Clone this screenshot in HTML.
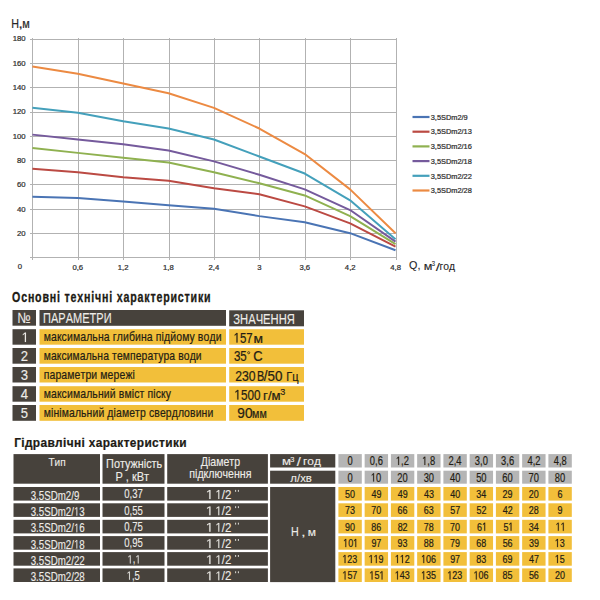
<!DOCTYPE html>
<html><head><meta charset="utf-8"><style>
html,body{margin:0;padding:0;background:#fff;width:600px;height:600px;overflow:hidden}
svg{display:block;font-family:"Liberation Sans",sans-serif;font-kerning:none}
</style></head><body>
<svg width="600" height="600" viewBox="0 0 600 600">
<g stroke="#b2b2b2" stroke-width="1" shape-rendering="crispEdges"><line x1="30" y1="233.5" x2="396" y2="233.5"/><line x1="30" y1="209.5" x2="396" y2="209.5"/><line x1="30" y1="184.5" x2="396" y2="184.5"/><line x1="30" y1="160.5" x2="396" y2="160.5"/><line x1="30" y1="136.5" x2="396" y2="136.5"/><line x1="30" y1="112.5" x2="396" y2="112.5"/><line x1="30" y1="87.5" x2="396" y2="87.5"/><line x1="30" y1="63.5" x2="396" y2="63.5"/><line x1="30" y1="39.5" x2="396" y2="39.5"/><line x1="30" y1="257.5" x2="396" y2="257.5"/><line x1="32.5" y1="38" x2="32.5" y2="260"/><line x1="78.5" y1="38" x2="78.5" y2="260"/><line x1="123.5" y1="38" x2="123.5" y2="260"/><line x1="169.5" y1="38" x2="169.5" y2="260"/><line x1="214.5" y1="38" x2="214.5" y2="260"/><line x1="259.5" y1="38" x2="259.5" y2="260"/><line x1="305.5" y1="38" x2="305.5" y2="260"/><line x1="350.5" y1="38" x2="350.5" y2="260"/><line x1="396.5" y1="38" x2="396.5" y2="260"/></g>
<polyline points="32.40,196.67 77.79,197.88 123.18,201.53 168.56,205.18 213.95,208.83 259.34,216.13 304.73,222.22 350.11,233.17 395.50,250.20" fill="none" stroke="#4a74b4" stroke-width="2.0" stroke-linejoin="round"/>
<polyline points="32.40,168.68 77.79,172.33 123.18,177.20 168.56,180.85 213.95,188.15 259.34,194.23 304.73,206.40 350.11,223.43 395.50,246.55" fill="none" stroke="#bb4a43" stroke-width="2.0" stroke-linejoin="round"/>
<polyline points="32.40,148.00 77.79,152.87 123.18,157.73 168.56,162.60 213.95,172.33 259.34,183.28 304.73,195.45 350.11,216.13 395.50,244.12" fill="none" stroke="#8fb150" stroke-width="2.0" stroke-linejoin="round"/>
<polyline points="32.40,134.62 77.79,139.48 123.18,144.35 168.56,150.43 213.95,161.38 259.34,174.77 304.73,189.37 350.11,210.05 395.50,241.68" fill="none" stroke="#755a9c" stroke-width="2.0" stroke-linejoin="round"/>
<polyline points="32.40,107.85 77.79,112.72 123.18,121.23 168.56,128.53 213.95,139.48 259.34,156.52 304.73,173.55 350.11,200.32 395.50,239.25" fill="none" stroke="#44a0bb" stroke-width="2.0" stroke-linejoin="round"/>
<polyline points="32.40,66.48 77.79,73.78 123.18,83.52 168.56,93.25 213.95,107.85 259.34,128.53 304.73,154.08 350.11,189.37 395.50,233.17" fill="none" stroke="#ec8a42" stroke-width="2.0" stroke-linejoin="round"/>
<text transform="matrix(0.9600,0,0,1,17.05,235.87)" font-size="8.10" stroke="#303030" stroke-width="0.24" stroke-linejoin="round" fill="#303030">20</text>
<text transform="matrix(0.9600,0,0,1,17.05,211.53)" font-size="8.10" stroke="#303030" stroke-width="0.24" stroke-linejoin="round" fill="#303030">40</text>
<text transform="matrix(0.9600,0,0,1,17.05,187.20)" font-size="8.10" stroke="#303030" stroke-width="0.24" stroke-linejoin="round" fill="#303030">60</text>
<text transform="matrix(0.9600,0,0,1,17.05,162.87)" font-size="8.10" stroke="#303030" stroke-width="0.24" stroke-linejoin="round" fill="#303030">80</text>
<text transform="matrix(0.9600,0,0,1,12.73,138.53)" font-size="8.10" stroke="#303030" stroke-width="0.24" stroke-linejoin="round" fill="#303030">100</text>
<text transform="matrix(0.9600,0,0,1,12.73,114.20)" font-size="8.10" stroke="#303030" stroke-width="0.24" stroke-linejoin="round" fill="#303030">120</text>
<text transform="matrix(0.9600,0,0,1,12.73,89.87)" font-size="8.10" stroke="#303030" stroke-width="0.24" stroke-linejoin="round" fill="#303030">140</text>
<text transform="matrix(0.9600,0,0,1,12.73,65.53)" font-size="8.10" stroke="#303030" stroke-width="0.24" stroke-linejoin="round" fill="#303030">160</text>
<text transform="matrix(0.9600,0,0,1,12.73,41.20)" font-size="8.10" stroke="#303030" stroke-width="0.24" stroke-linejoin="round" fill="#303030">180</text>
<text transform="matrix(0.9600,0,0,1,17.70,268.70)" font-size="8.10" stroke="#303030" stroke-width="0.24" stroke-linejoin="round" fill="#303030">0</text>
<text transform="matrix(1.0000,0,0,1,72.45,270.20)" font-size="7.70" stroke="#303030" stroke-width="0.24" stroke-linejoin="round" fill="#303030">0,6</text>
<text transform="matrix(1.0000,0,0,1,117.72,270.20)" font-size="7.70" stroke="#303030" stroke-width="0.24" stroke-linejoin="round" fill="#303030">1,2</text>
<text transform="matrix(1.0000,0,0,1,163.08,270.20)" font-size="7.70" stroke="#303030" stroke-width="0.24" stroke-linejoin="round" fill="#303030">1,8</text>
<text transform="matrix(1.0000,0,0,1,208.52,270.20)" font-size="7.70" stroke="#303030" stroke-width="0.24" stroke-linejoin="round" fill="#303030">2,4</text>
<text transform="matrix(1.0000,0,0,1,257.22,270.20)" font-size="7.70" stroke="#303030" stroke-width="0.24" stroke-linejoin="round" fill="#303030">3</text>
<text transform="matrix(1.0000,0,0,1,299.40,270.20)" font-size="7.70" stroke="#303030" stroke-width="0.24" stroke-linejoin="round" fill="#303030">3,6</text>
<text transform="matrix(1.0000,0,0,1,344.87,270.20)" font-size="7.70" stroke="#303030" stroke-width="0.24" stroke-linejoin="round" fill="#303030">4,2</text>
<text transform="matrix(1.0000,0,0,1,390.23,270.20)" font-size="7.70" stroke="#303030" stroke-width="0.24" stroke-linejoin="round" fill="#303030">4,8</text>
<line x1="412.5" y1="117.00" x2="429.5" y2="117.00" stroke="#4a74b4" stroke-width="2.2"/>
<text transform="matrix(0.9871,0,0,1,430.72,119.75)" font-size="7.50" stroke="#303030" stroke-width="0.24" stroke-linejoin="round" fill="#303030">3,5SDm2/9</text>
<line x1="412.5" y1="131.70" x2="429.5" y2="131.70" stroke="#bb4a43" stroke-width="2.2"/>
<text transform="matrix(0.9871,0,0,1,430.72,134.45)" font-size="7.50" stroke="#303030" stroke-width="0.24" stroke-linejoin="round" fill="#303030">3,5SDm2/13</text>
<line x1="412.5" y1="146.40" x2="429.5" y2="146.40" stroke="#8fb150" stroke-width="2.2"/>
<text transform="matrix(0.9871,0,0,1,430.72,149.15)" font-size="7.50" stroke="#303030" stroke-width="0.24" stroke-linejoin="round" fill="#303030">3,5SDm2/16</text>
<line x1="412.5" y1="161.10" x2="429.5" y2="161.10" stroke="#755a9c" stroke-width="2.2"/>
<text transform="matrix(0.9871,0,0,1,430.72,163.85)" font-size="7.50" stroke="#303030" stroke-width="0.24" stroke-linejoin="round" fill="#303030">3,5SDm2/18</text>
<line x1="412.5" y1="175.80" x2="429.5" y2="175.80" stroke="#44a0bb" stroke-width="2.2"/>
<text transform="matrix(0.9871,0,0,1,430.72,178.55)" font-size="7.50" stroke="#303030" stroke-width="0.24" stroke-linejoin="round" fill="#303030">3,5SDm2/22</text>
<line x1="412.5" y1="190.50" x2="429.5" y2="190.50" stroke="#ec8a42" stroke-width="2.2"/>
<text transform="matrix(0.9871,0,0,1,430.72,193.25)" font-size="7.50" stroke="#303030" stroke-width="0.24" stroke-linejoin="round" fill="#303030">3,5SDm2/28</text>
<text transform="matrix(0.8458,0,0,1,11.37,27.75)" font-size="12.70" stroke="#262626" stroke-width="0.20" stroke-linejoin="round" fill="#262626">H</text>
<text transform="matrix(1.2034,0,0,1,18.38,27.75)" font-size="12.70" stroke="#262626" stroke-width="0.20" stroke-linejoin="round" fill="#262626">,</text>
<text transform="matrix(0.9179,0,0,1,22.24,27.75)" font-size="11.90" stroke="#262626" stroke-width="0.20" stroke-linejoin="round" fill="#262626">м</text>
<text transform="matrix(0.9624,0,0,1,409.09,268.80)" font-size="11.20" stroke="#262626" stroke-width="0.10" stroke-linejoin="round" fill="#262626">Q,</text>
<text transform="matrix(1.2195,0,0,1,423.83,269.70)" font-size="10.30" stroke="#262626" stroke-width="0.10" stroke-linejoin="round" fill="#262626">м</text>
<text transform="matrix(0.9228,0,0,1,431.78,265.50)" font-size="6.40" stroke="#262626" stroke-width="0.10" stroke-linejoin="round" fill="#262626">3</text>
<text transform="matrix(1.3145,0,0,1,435.70,271.00)" font-size="11.50" stroke="#262626" stroke-width="0.10" stroke-linejoin="round" fill="#262626">/</text>
<text transform="matrix(1.0065,0,0,1,439.58,269.70)" font-size="10.30" stroke="#262626" stroke-width="0.10" stroke-linejoin="round" fill="#262626">год</text>
<text transform="matrix(0.7391,0,0,1,12.06,301.80)" font-size="14.40" font-weight="bold" letter-spacing="1.10" stroke="#201a14" stroke-width="0.30" stroke-linejoin="round" fill="#201a14">Основні технічні характеристики</text>
<rect x="12.50" y="310.00" width="23.50" height="15.70" fill="#47423c"/>
<rect x="39.50" y="310.00" width="186.50" height="15.80" fill="#47423c"/>
<rect x="229.20" y="310.30" width="74.80" height="16.00" fill="#47423c"/>
<text transform="matrix(0.8365,0,0,1,17.56,323.00)" font-size="14.90" stroke="#eeece8" stroke-width="0.12" stroke-linejoin="round" fill="#eeece8">№</text>
<text transform="matrix(0.7837,0,0,1,43.11,323.40)" font-size="14.06" stroke="#eeece8" stroke-width="0.12" stroke-linejoin="round" fill="#eeece8">ПАРАМЕТРИ</text>
<text transform="matrix(0.7973,0,0,1,233.33,323.70)" font-size="14.06" stroke="#eeece8" stroke-width="0.12" stroke-linejoin="round" fill="#eeece8">ЗНАЧЕННЯ</text>
<rect x="12.50" y="329.20" width="23.50" height="15.50" fill="#47423c"/>
<rect x="39.50" y="329.20" width="186.50" height="15.50" fill="#f2bf3a"/>
<rect x="229.20" y="329.20" width="74.80" height="15.50" fill="#f2bf3a"/>
<g transform="matrix(0.9500,0,0,1,21.54,342.10)" fill="#eeece8"><text font-size="13.80" stroke="#eeece8" stroke-width="0.12" stroke-linejoin="round"> </text><path transform="matrix(0.00674,0,0,-0.00674,0.000,0)" d="M515 0V1237L197 1010V1180L530 1409H696V0Z" stroke="#eeece8" stroke-width="17.8" stroke-linejoin="round"/></g>
<text transform="matrix(0.8300,0,0,1,43.67,341.00)" font-size="12.60" letter-spacing="0.15" stroke="#241d14" stroke-width="0.22" stroke-linejoin="round" fill="#241d14">максимальна глибина підйому води</text>
<rect x="12.50" y="348.00" width="23.50" height="15.70" fill="#47423c"/>
<rect x="39.50" y="348.00" width="186.50" height="15.70" fill="#f2bf3a"/>
<rect x="229.20" y="348.00" width="74.80" height="15.70" fill="#f2bf3a"/>
<text transform="matrix(0.9500,0,0,1,20.75,360.90)" font-size="13.80" stroke="#eeece8" stroke-width="0.12" stroke-linejoin="round" fill="#eeece8">2</text>
<text transform="matrix(0.8206,0,0,1,43.68,359.80)" font-size="12.60" letter-spacing="0.15" stroke="#241d14" stroke-width="0.22" stroke-linejoin="round" fill="#241d14">максимальна температура води</text>
<rect x="12.50" y="367.00" width="23.50" height="15.50" fill="#47423c"/>
<rect x="39.50" y="367.00" width="186.50" height="15.50" fill="#f2bf3a"/>
<rect x="229.20" y="367.00" width="74.80" height="15.50" fill="#f2bf3a"/>
<text transform="matrix(0.9500,0,0,1,20.79,379.90)" font-size="13.80" stroke="#eeece8" stroke-width="0.12" stroke-linejoin="round" fill="#eeece8">3</text>
<text transform="matrix(0.8294,0,0,1,43.68,378.80)" font-size="12.60" letter-spacing="0.15" stroke="#241d14" stroke-width="0.22" stroke-linejoin="round" fill="#241d14">параметри мережі</text>
<rect x="12.50" y="386.20" width="23.50" height="15.50" fill="#47423c"/>
<rect x="39.50" y="386.20" width="186.50" height="15.50" fill="#f2bf3a"/>
<rect x="229.20" y="386.20" width="74.80" height="15.50" fill="#f2bf3a"/>
<text transform="matrix(0.9500,0,0,1,20.80,399.10)" font-size="13.80" stroke="#eeece8" stroke-width="0.12" stroke-linejoin="round" fill="#eeece8">4</text>
<text transform="matrix(0.8293,0,0,1,43.68,398.00)" font-size="12.60" letter-spacing="0.15" stroke="#241d14" stroke-width="0.22" stroke-linejoin="round" fill="#241d14">максимальний вміст піску</text>
<rect x="12.50" y="405.00" width="23.50" height="15.80" fill="#47423c"/>
<rect x="39.50" y="405.00" width="186.50" height="15.80" fill="#f2bf3a"/>
<rect x="229.20" y="405.00" width="74.80" height="15.80" fill="#f2bf3a"/>
<text transform="matrix(0.9500,0,0,1,20.77,417.90)" font-size="13.80" stroke="#eeece8" stroke-width="0.12" stroke-linejoin="round" fill="#eeece8">5</text>
<text transform="matrix(0.8264,0,0,1,43.68,416.80)" font-size="12.60" letter-spacing="0.15" stroke="#241d14" stroke-width="0.22" stroke-linejoin="round" fill="#241d14">мінімальний діаметр свердловини</text>
<g transform="matrix(0.8332,0,0,1,233.59,342.60)" fill="#241d14"><text font-size="13.80" stroke="#241d14" stroke-width="0.22" stroke-linejoin="round"> 57</text><path transform="matrix(0.00674,0,0,-0.00674,0.000,0)" d="M515 0V1237L197 1010V1180L530 1409H696V0Z" stroke="#241d14" stroke-width="32.6" stroke-linejoin="round"/></g>
<text transform="matrix(1.1340,0,0,1,253.54,342.60)" font-size="12.20" stroke="#241d14" stroke-width="0.22" stroke-linejoin="round" fill="#241d14">м</text>
<text transform="matrix(0.8354,0,0,1,233.96,361.25)" font-size="13.80" stroke="#241d14" stroke-width="0.22" stroke-linejoin="round" fill="#241d14">35</text>
<circle cx="248.7" cy="352.7" r="1.05" fill="none" stroke="#241d14" stroke-width="0.75"/>
<text transform="matrix(0.9383,0,0,1,253.24,361.25)" font-size="13.80" stroke="#241d14" stroke-width="0.22" stroke-linejoin="round" fill="#241d14">C</text>
<text transform="matrix(0.8857,0,0,1,235.19,380.50)" font-size="13.80" stroke="#241d14" stroke-width="0.22" stroke-linejoin="round" fill="#241d14">230</text>
<text transform="matrix(0.7897,0,0,1,257.11,380.50)" font-size="13.80" stroke="#241d14" stroke-width="0.22" stroke-linejoin="round" fill="#241d14">В</text>
<text transform="matrix(0.9708,0,0,1,263.80,380.50)" font-size="13.80" stroke="#241d14" stroke-width="0.22" stroke-linejoin="round" fill="#241d14">/50</text>
<text transform="matrix(0.8729,0,0,1,286.30,380.50)" font-size="12.60" stroke="#241d14" stroke-width="0.22" stroke-linejoin="round" fill="#241d14">Гц</text>
<g transform="matrix(0.8497,0,0,1,234.37,399.50)" fill="#241d14"><text font-size="13.80" stroke="#241d14" stroke-width="0.22" stroke-linejoin="round"> 500</text><path transform="matrix(0.00674,0,0,-0.00674,0.000,0)" d="M515 0V1237L197 1010V1180L530 1409H696V0Z" stroke="#241d14" stroke-width="32.6" stroke-linejoin="round"/></g>
<text transform="matrix(1.0291,0,0,1,263.09,399.60)" font-size="12.80" stroke="#241d14" stroke-width="0.22" stroke-linejoin="round" fill="#241d14">г/м</text>
<text transform="matrix(0.9255,0,0,1,280.35,395.10)" font-size="9.80" stroke="#241d14" stroke-width="0.18" stroke-linejoin="round" fill="#241d14">3</text>
<text transform="matrix(0.9884,0,0,1,237.36,418.00)" font-size="13.80" stroke="#241d14" stroke-width="0.22" stroke-linejoin="round" fill="#241d14">90</text>
<text transform="matrix(0.8470,0,0,1,252.06,418.00)" font-size="12.60" stroke="#241d14" stroke-width="0.22" stroke-linejoin="round" fill="#241d14">мм</text>
<text transform="matrix(0.8819,0,0,1,14.20,446.50)" font-size="13.50" font-weight="bold" letter-spacing="0.40" stroke="#201a14" stroke-width="0.25" stroke-linejoin="round" fill="#201a14">Гідравлічні характеристики</text>
<rect x="13.50" y="454.10" width="86.50" height="29.60" fill="#47423c"/>
<rect x="102.50" y="454.10" width="62.00" height="29.60" fill="#47423c"/>
<rect x="167.20" y="454.10" width="100.70" height="29.60" fill="#47423c"/>
<rect x="270.10" y="454.10" width="65.20" height="13.40" fill="#47423c"/>
<rect x="270.10" y="470.70" width="65.20" height="13.00" fill="#47423c"/>
<rect x="338.40" y="454.10" width="23.40" height="13.40" fill="#b5b5b5"/>
<rect x="338.40" y="470.70" width="23.40" height="13.00" fill="#b5b5b5"/>
<text transform="matrix(0.7800,0,0,1,347.50,464.90)" font-size="12.00" stroke="#241d14" stroke-width="0.20" stroke-linejoin="round" fill="#241d14">0</text>
<text transform="matrix(0.7800,0,0,1,347.50,481.60)" font-size="12.00" stroke="#241d14" stroke-width="0.20" stroke-linejoin="round" fill="#241d14">0</text>
<rect x="338.40" y="487.00" width="23.40" height="13.60" fill="#f2bf3a"/>
<text transform="matrix(0.7600,0,0,1,345.11,498.00)" font-size="11.80" stroke="#241d14" stroke-width="0.22" stroke-linejoin="round" fill="#241d14">50</text>
<rect x="338.40" y="503.30" width="23.40" height="13.60" fill="#f2bf3a"/>
<text transform="matrix(0.7600,0,0,1,345.08,514.30)" font-size="11.80" stroke="#241d14" stroke-width="0.22" stroke-linejoin="round" fill="#241d14">73</text>
<rect x="338.40" y="519.80" width="23.40" height="13.60" fill="#f2bf3a"/>
<text transform="matrix(0.7600,0,0,1,345.08,530.80)" font-size="11.80" stroke="#241d14" stroke-width="0.22" stroke-linejoin="round" fill="#241d14">90</text>
<rect x="338.40" y="536.10" width="23.40" height="13.60" fill="#f2bf3a"/>
<g transform="matrix(0.7600,0,0,1,343.16,547.10)" fill="#241d14"><text font-size="11.80" stroke="#241d14" stroke-width="0.22" stroke-linejoin="round"> 0 </text><path transform="matrix(0.00576,0,0,-0.00576,0.000,0)" d="M515 0V1237L197 1010V1180L530 1409H696V0Z" stroke="#241d14" stroke-width="38.2" stroke-linejoin="round"/><path transform="matrix(0.00576,0,0,-0.00576,13.125,0)" d="M515 0V1237L197 1010V1180L530 1409H696V0Z" stroke="#241d14" stroke-width="38.2" stroke-linejoin="round"/></g>
<rect x="338.40" y="552.10" width="23.40" height="13.60" fill="#f2bf3a"/>
<g transform="matrix(0.7600,0,0,1,342.38,563.10)" fill="#241d14"><text font-size="11.80" stroke="#241d14" stroke-width="0.22" stroke-linejoin="round"> 23</text><path transform="matrix(0.00576,0,0,-0.00576,0.000,0)" d="M515 0V1237L197 1010V1180L530 1409H696V0Z" stroke="#241d14" stroke-width="38.2" stroke-linejoin="round"/></g>
<rect x="338.40" y="568.40" width="23.40" height="13.60" fill="#f2bf3a"/>
<g transform="matrix(0.7600,0,0,1,342.41,579.40)" fill="#241d14"><text font-size="11.80" stroke="#241d14" stroke-width="0.22" stroke-linejoin="round"> 57</text><path transform="matrix(0.00576,0,0,-0.00576,0.000,0)" d="M515 0V1237L197 1010V1180L530 1409H696V0Z" stroke="#241d14" stroke-width="38.2" stroke-linejoin="round"/></g>
<rect x="364.65" y="454.10" width="23.40" height="13.40" fill="#b5b5b5"/>
<rect x="364.65" y="470.70" width="23.40" height="13.00" fill="#b5b5b5"/>
<text transform="matrix(0.7800,0,0,1,369.87,464.90)" font-size="12.00" stroke="#241d14" stroke-width="0.20" stroke-linejoin="round" fill="#241d14">0,6</text>
<g transform="matrix(0.7800,0,0,1,370.88,481.60)" fill="#241d14"><text font-size="12.00" stroke="#241d14" stroke-width="0.20" stroke-linejoin="round"> 0</text><path transform="matrix(0.00586,0,0,-0.00586,0.000,0)" d="M515 0V1237L197 1010V1180L530 1409H696V0Z" stroke="#241d14" stroke-width="34.1" stroke-linejoin="round"/></g>
<rect x="364.65" y="487.00" width="23.40" height="13.60" fill="#f2bf3a"/>
<text transform="matrix(0.7600,0,0,1,371.47,498.00)" font-size="11.80" stroke="#241d14" stroke-width="0.22" stroke-linejoin="round" fill="#241d14">49</text>
<rect x="364.65" y="503.30" width="23.40" height="13.60" fill="#f2bf3a"/>
<text transform="matrix(0.7600,0,0,1,371.31,514.30)" font-size="11.80" stroke="#241d14" stroke-width="0.22" stroke-linejoin="round" fill="#241d14">70</text>
<rect x="364.65" y="519.80" width="23.40" height="13.60" fill="#f2bf3a"/>
<text transform="matrix(0.7600,0,0,1,371.36,530.80)" font-size="11.80" stroke="#241d14" stroke-width="0.22" stroke-linejoin="round" fill="#241d14">86</text>
<rect x="364.65" y="536.10" width="23.40" height="13.60" fill="#f2bf3a"/>
<text transform="matrix(0.7600,0,0,1,371.38,547.10)" font-size="11.80" stroke="#241d14" stroke-width="0.22" stroke-linejoin="round" fill="#241d14">97</text>
<rect x="364.65" y="552.10" width="23.40" height="13.60" fill="#f2bf3a"/>
<g transform="matrix(0.7600,0,0,1,368.65,563.10)" fill="#241d14"><text font-size="11.80" stroke="#241d14" stroke-width="0.22" stroke-linejoin="round">  9</text><path transform="matrix(0.00576,0,0,-0.00576,0.000,0)" d="M515 0V1237L197 1010V1180L530 1409H696V0Z" stroke="#241d14" stroke-width="38.2" stroke-linejoin="round"/><path transform="matrix(0.00576,0,0,-0.00576,6.563,0)" d="M515 0V1237L197 1010V1180L530 1409H696V0Z" stroke="#241d14" stroke-width="38.2" stroke-linejoin="round"/></g>
<rect x="364.65" y="568.40" width="23.40" height="13.60" fill="#f2bf3a"/>
<g transform="matrix(0.7600,0,0,1,369.41,579.40)" fill="#241d14"><text font-size="11.80" stroke="#241d14" stroke-width="0.22" stroke-linejoin="round"> 5 </text><path transform="matrix(0.00576,0,0,-0.00576,0.000,0)" d="M515 0V1237L197 1010V1180L530 1409H696V0Z" stroke="#241d14" stroke-width="38.2" stroke-linejoin="round"/><path transform="matrix(0.00576,0,0,-0.00576,13.125,0)" d="M515 0V1237L197 1010V1180L530 1409H696V0Z" stroke="#241d14" stroke-width="38.2" stroke-linejoin="round"/></g>
<rect x="390.90" y="454.10" width="23.40" height="13.40" fill="#b5b5b5"/>
<rect x="390.90" y="470.70" width="23.40" height="13.00" fill="#b5b5b5"/>
<g transform="matrix(0.7800,0,0,1,395.88,464.90)" fill="#241d14"><text font-size="12.00" stroke="#241d14" stroke-width="0.20" stroke-linejoin="round"> ,2</text><path transform="matrix(0.00586,0,0,-0.00586,0.000,0)" d="M515 0V1237L197 1010V1180L530 1409H696V0Z" stroke="#241d14" stroke-width="34.1" stroke-linejoin="round"/></g>
<text transform="matrix(0.7800,0,0,1,397.34,481.60)" font-size="12.00" stroke="#241d14" stroke-width="0.20" stroke-linejoin="round" fill="#241d14">20</text>
<rect x="390.90" y="487.00" width="23.40" height="13.60" fill="#f2bf3a"/>
<text transform="matrix(0.7600,0,0,1,397.72,498.00)" font-size="11.80" stroke="#241d14" stroke-width="0.22" stroke-linejoin="round" fill="#241d14">49</text>
<rect x="390.90" y="503.30" width="23.40" height="13.60" fill="#f2bf3a"/>
<text transform="matrix(0.7600,0,0,1,397.58,514.30)" font-size="11.80" stroke="#241d14" stroke-width="0.22" stroke-linejoin="round" fill="#241d14">66</text>
<rect x="390.90" y="519.80" width="23.40" height="13.60" fill="#f2bf3a"/>
<text transform="matrix(0.7600,0,0,1,397.64,530.80)" font-size="11.80" stroke="#241d14" stroke-width="0.22" stroke-linejoin="round" fill="#241d14">82</text>
<rect x="390.90" y="536.10" width="23.40" height="13.60" fill="#f2bf3a"/>
<text transform="matrix(0.7600,0,0,1,397.60,547.10)" font-size="11.80" stroke="#241d14" stroke-width="0.22" stroke-linejoin="round" fill="#241d14">93</text>
<rect x="390.90" y="552.10" width="23.40" height="13.60" fill="#f2bf3a"/>
<g transform="matrix(0.7600,0,0,1,394.91,563.10)" fill="#241d14"><text font-size="11.80" stroke="#241d14" stroke-width="0.22" stroke-linejoin="round">  2</text><path transform="matrix(0.00576,0,0,-0.00576,0.000,0)" d="M515 0V1237L197 1010V1180L530 1409H696V0Z" stroke="#241d14" stroke-width="38.2" stroke-linejoin="round"/><path transform="matrix(0.00576,0,0,-0.00576,6.563,0)" d="M515 0V1237L197 1010V1180L530 1409H696V0Z" stroke="#241d14" stroke-width="38.2" stroke-linejoin="round"/></g>
<rect x="390.90" y="568.40" width="23.40" height="13.60" fill="#f2bf3a"/>
<g transform="matrix(0.7600,0,0,1,394.88,579.40)" fill="#241d14"><text font-size="11.80" stroke="#241d14" stroke-width="0.22" stroke-linejoin="round"> 43</text><path transform="matrix(0.00576,0,0,-0.00576,0.000,0)" d="M515 0V1237L197 1010V1180L530 1409H696V0Z" stroke="#241d14" stroke-width="38.2" stroke-linejoin="round"/></g>
<rect x="417.15" y="454.10" width="23.40" height="13.40" fill="#b5b5b5"/>
<rect x="417.15" y="470.70" width="23.40" height="13.00" fill="#b5b5b5"/>
<g transform="matrix(0.7800,0,0,1,422.10,464.90)" fill="#241d14"><text font-size="12.00" stroke="#241d14" stroke-width="0.20" stroke-linejoin="round"> ,8</text><path transform="matrix(0.00586,0,0,-0.00586,0.000,0)" d="M515 0V1237L197 1010V1180L530 1409H696V0Z" stroke="#241d14" stroke-width="34.1" stroke-linejoin="round"/></g>
<text transform="matrix(0.7800,0,0,1,423.65,481.60)" font-size="12.00" stroke="#241d14" stroke-width="0.20" stroke-linejoin="round" fill="#241d14">30</text>
<rect x="417.15" y="487.00" width="23.40" height="13.60" fill="#f2bf3a"/>
<text transform="matrix(0.7600,0,0,1,423.96,498.00)" font-size="11.80" stroke="#241d14" stroke-width="0.22" stroke-linejoin="round" fill="#241d14">43</text>
<rect x="417.15" y="503.30" width="23.40" height="13.60" fill="#f2bf3a"/>
<text transform="matrix(0.7600,0,0,1,423.83,514.30)" font-size="11.80" stroke="#241d14" stroke-width="0.22" stroke-linejoin="round" fill="#241d14">63</text>
<rect x="417.15" y="519.80" width="23.40" height="13.60" fill="#f2bf3a"/>
<text transform="matrix(0.7600,0,0,1,423.83,530.80)" font-size="11.80" stroke="#241d14" stroke-width="0.22" stroke-linejoin="round" fill="#241d14">78</text>
<rect x="417.15" y="536.10" width="23.40" height="13.60" fill="#f2bf3a"/>
<text transform="matrix(0.7600,0,0,1,423.86,547.10)" font-size="11.80" stroke="#241d14" stroke-width="0.22" stroke-linejoin="round" fill="#241d14">88</text>
<rect x="417.15" y="552.10" width="23.40" height="13.60" fill="#f2bf3a"/>
<g transform="matrix(0.7600,0,0,1,421.13,563.10)" fill="#241d14"><text font-size="11.80" stroke="#241d14" stroke-width="0.22" stroke-linejoin="round"> 06</text><path transform="matrix(0.00576,0,0,-0.00576,0.000,0)" d="M515 0V1237L197 1010V1180L530 1409H696V0Z" stroke="#241d14" stroke-width="38.2" stroke-linejoin="round"/></g>
<rect x="417.15" y="568.40" width="23.40" height="13.60" fill="#f2bf3a"/>
<g transform="matrix(0.7600,0,0,1,421.13,579.40)" fill="#241d14"><text font-size="11.80" stroke="#241d14" stroke-width="0.22" stroke-linejoin="round"> 35</text><path transform="matrix(0.00576,0,0,-0.00576,0.000,0)" d="M515 0V1237L197 1010V1180L530 1409H696V0Z" stroke="#241d14" stroke-width="38.2" stroke-linejoin="round"/></g>
<rect x="443.40" y="454.10" width="23.40" height="13.40" fill="#b5b5b5"/>
<rect x="443.40" y="470.70" width="23.40" height="13.00" fill="#b5b5b5"/>
<text transform="matrix(0.7800,0,0,1,448.50,464.90)" font-size="12.00" stroke="#241d14" stroke-width="0.20" stroke-linejoin="round" fill="#241d14">2,4</text>
<text transform="matrix(0.7800,0,0,1,449.97,481.60)" font-size="12.00" stroke="#241d14" stroke-width="0.20" stroke-linejoin="round" fill="#241d14">40</text>
<rect x="443.40" y="487.00" width="23.40" height="13.60" fill="#f2bf3a"/>
<text transform="matrix(0.7600,0,0,1,450.18,498.00)" font-size="11.80" stroke="#241d14" stroke-width="0.22" stroke-linejoin="round" fill="#241d14">40</text>
<rect x="443.40" y="503.30" width="23.40" height="13.60" fill="#f2bf3a"/>
<text transform="matrix(0.7600,0,0,1,450.16,514.30)" font-size="11.80" stroke="#241d14" stroke-width="0.22" stroke-linejoin="round" fill="#241d14">57</text>
<rect x="443.40" y="519.80" width="23.40" height="13.60" fill="#f2bf3a"/>
<text transform="matrix(0.7600,0,0,1,450.06,530.80)" font-size="11.80" stroke="#241d14" stroke-width="0.22" stroke-linejoin="round" fill="#241d14">70</text>
<rect x="443.40" y="536.10" width="23.40" height="13.60" fill="#f2bf3a"/>
<text transform="matrix(0.7600,0,0,1,450.09,547.10)" font-size="11.80" stroke="#241d14" stroke-width="0.22" stroke-linejoin="round" fill="#241d14">79</text>
<rect x="443.40" y="552.10" width="23.40" height="13.60" fill="#f2bf3a"/>
<text transform="matrix(0.7600,0,0,1,450.13,563.10)" font-size="11.80" stroke="#241d14" stroke-width="0.22" stroke-linejoin="round" fill="#241d14">97</text>
<rect x="443.40" y="568.40" width="23.40" height="13.60" fill="#f2bf3a"/>
<g transform="matrix(0.7600,0,0,1,447.38,579.40)" fill="#241d14"><text font-size="11.80" stroke="#241d14" stroke-width="0.22" stroke-linejoin="round"> 23</text><path transform="matrix(0.00576,0,0,-0.00576,0.000,0)" d="M515 0V1237L197 1010V1180L530 1409H696V0Z" stroke="#241d14" stroke-width="38.2" stroke-linejoin="round"/></g>
<rect x="469.65" y="454.10" width="23.40" height="13.40" fill="#b5b5b5"/>
<rect x="469.65" y="470.70" width="23.40" height="13.00" fill="#b5b5b5"/>
<text transform="matrix(0.7800,0,0,1,474.85,464.90)" font-size="12.00" stroke="#241d14" stroke-width="0.20" stroke-linejoin="round" fill="#241d14">3,0</text>
<text transform="matrix(0.7800,0,0,1,476.14,481.60)" font-size="12.00" stroke="#241d14" stroke-width="0.20" stroke-linejoin="round" fill="#241d14">50</text>
<rect x="469.65" y="487.00" width="23.40" height="13.60" fill="#f2bf3a"/>
<text transform="matrix(0.7600,0,0,1,476.32,498.00)" font-size="11.80" stroke="#241d14" stroke-width="0.22" stroke-linejoin="round" fill="#241d14">34</text>
<rect x="469.65" y="503.30" width="23.40" height="13.60" fill="#f2bf3a"/>
<text transform="matrix(0.7600,0,0,1,476.41,514.30)" font-size="11.80" stroke="#241d14" stroke-width="0.22" stroke-linejoin="round" fill="#241d14">52</text>
<rect x="469.65" y="519.80" width="23.40" height="13.60" fill="#f2bf3a"/>
<g transform="matrix(0.7600,0,0,1,477.10,530.80)" fill="#241d14"><text font-size="11.80" stroke="#241d14" stroke-width="0.22" stroke-linejoin="round">6 </text><path transform="matrix(0.00576,0,0,-0.00576,6.563,0)" d="M515 0V1237L197 1010V1180L530 1409H696V0Z" stroke="#241d14" stroke-width="38.2" stroke-linejoin="round"/></g>
<rect x="469.65" y="536.10" width="23.40" height="13.60" fill="#f2bf3a"/>
<text transform="matrix(0.7600,0,0,1,476.33,547.10)" font-size="11.80" stroke="#241d14" stroke-width="0.22" stroke-linejoin="round" fill="#241d14">68</text>
<rect x="469.65" y="552.10" width="23.40" height="13.60" fill="#f2bf3a"/>
<text transform="matrix(0.7600,0,0,1,476.36,563.10)" font-size="11.80" stroke="#241d14" stroke-width="0.22" stroke-linejoin="round" fill="#241d14">83</text>
<rect x="469.65" y="568.40" width="23.40" height="13.60" fill="#f2bf3a"/>
<g transform="matrix(0.7600,0,0,1,473.63,579.40)" fill="#241d14"><text font-size="11.80" stroke="#241d14" stroke-width="0.22" stroke-linejoin="round"> 06</text><path transform="matrix(0.00576,0,0,-0.00576,0.000,0)" d="M515 0V1237L197 1010V1180L530 1409H696V0Z" stroke="#241d14" stroke-width="38.2" stroke-linejoin="round"/></g>
<rect x="495.90" y="454.10" width="23.40" height="13.40" fill="#b5b5b5"/>
<rect x="495.90" y="470.70" width="23.40" height="13.00" fill="#b5b5b5"/>
<text transform="matrix(0.7800,0,0,1,501.12,464.90)" font-size="12.00" stroke="#241d14" stroke-width="0.20" stroke-linejoin="round" fill="#241d14">3,6</text>
<text transform="matrix(0.7800,0,0,1,502.34,481.60)" font-size="12.00" stroke="#241d14" stroke-width="0.20" stroke-linejoin="round" fill="#241d14">60</text>
<rect x="495.90" y="487.00" width="23.40" height="13.60" fill="#f2bf3a"/>
<text transform="matrix(0.7600,0,0,1,502.60,498.00)" font-size="11.80" stroke="#241d14" stroke-width="0.22" stroke-linejoin="round" fill="#241d14">29</text>
<rect x="495.90" y="503.30" width="23.40" height="13.60" fill="#f2bf3a"/>
<text transform="matrix(0.7600,0,0,1,502.74,514.30)" font-size="11.80" stroke="#241d14" stroke-width="0.22" stroke-linejoin="round" fill="#241d14">42</text>
<rect x="495.90" y="519.80" width="23.40" height="13.60" fill="#f2bf3a"/>
<g transform="matrix(0.7600,0,0,1,503.40,530.80)" fill="#241d14"><text font-size="11.80" stroke="#241d14" stroke-width="0.22" stroke-linejoin="round">5 </text><path transform="matrix(0.00576,0,0,-0.00576,6.563,0)" d="M515 0V1237L197 1010V1180L530 1409H696V0Z" stroke="#241d14" stroke-width="38.2" stroke-linejoin="round"/></g>
<rect x="495.90" y="536.10" width="23.40" height="13.60" fill="#f2bf3a"/>
<text transform="matrix(0.7600,0,0,1,502.63,547.10)" font-size="11.80" stroke="#241d14" stroke-width="0.22" stroke-linejoin="round" fill="#241d14">56</text>
<rect x="495.90" y="552.10" width="23.40" height="13.60" fill="#f2bf3a"/>
<text transform="matrix(0.7600,0,0,1,502.60,563.10)" font-size="11.80" stroke="#241d14" stroke-width="0.22" stroke-linejoin="round" fill="#241d14">69</text>
<rect x="495.90" y="568.40" width="23.40" height="13.60" fill="#f2bf3a"/>
<text transform="matrix(0.7600,0,0,1,502.61,579.40)" font-size="11.80" stroke="#241d14" stroke-width="0.22" stroke-linejoin="round" fill="#241d14">85</text>
<rect x="522.15" y="454.10" width="23.40" height="13.40" fill="#b5b5b5"/>
<rect x="522.15" y="470.70" width="23.40" height="13.00" fill="#b5b5b5"/>
<text transform="matrix(0.7800,0,0,1,527.47,464.90)" font-size="12.00" stroke="#241d14" stroke-width="0.20" stroke-linejoin="round" fill="#241d14">4,2</text>
<text transform="matrix(0.7800,0,0,1,528.59,481.60)" font-size="12.00" stroke="#241d14" stroke-width="0.20" stroke-linejoin="round" fill="#241d14">70</text>
<rect x="522.15" y="487.00" width="23.40" height="13.60" fill="#f2bf3a"/>
<text transform="matrix(0.7600,0,0,1,528.81,498.00)" font-size="11.80" stroke="#241d14" stroke-width="0.22" stroke-linejoin="round" fill="#241d14">20</text>
<rect x="522.15" y="503.30" width="23.40" height="13.60" fill="#f2bf3a"/>
<text transform="matrix(0.7600,0,0,1,528.83,514.30)" font-size="11.80" stroke="#241d14" stroke-width="0.22" stroke-linejoin="round" fill="#241d14">28</text>
<rect x="522.15" y="519.80" width="23.40" height="13.60" fill="#f2bf3a"/>
<text transform="matrix(0.7600,0,0,1,528.82,530.80)" font-size="11.80" stroke="#241d14" stroke-width="0.22" stroke-linejoin="round" fill="#241d14">34</text>
<rect x="522.15" y="536.10" width="23.40" height="13.60" fill="#f2bf3a"/>
<text transform="matrix(0.7600,0,0,1,528.90,547.10)" font-size="11.80" stroke="#241d14" stroke-width="0.22" stroke-linejoin="round" fill="#241d14">39</text>
<rect x="522.15" y="552.10" width="23.40" height="13.60" fill="#f2bf3a"/>
<text transform="matrix(0.7600,0,0,1,528.99,563.10)" font-size="11.80" stroke="#241d14" stroke-width="0.22" stroke-linejoin="round" fill="#241d14">47</text>
<rect x="522.15" y="568.40" width="23.40" height="13.60" fill="#f2bf3a"/>
<text transform="matrix(0.7600,0,0,1,528.88,579.40)" font-size="11.80" stroke="#241d14" stroke-width="0.22" stroke-linejoin="round" fill="#241d14">56</text>
<rect x="548.40" y="454.10" width="23.40" height="13.40" fill="#b5b5b5"/>
<rect x="548.40" y="470.70" width="23.40" height="13.00" fill="#b5b5b5"/>
<text transform="matrix(0.7800,0,0,1,553.69,464.90)" font-size="12.00" stroke="#241d14" stroke-width="0.20" stroke-linejoin="round" fill="#241d14">4,8</text>
<text transform="matrix(0.7800,0,0,1,554.87,481.60)" font-size="12.00" stroke="#241d14" stroke-width="0.20" stroke-linejoin="round" fill="#241d14">80</text>
<rect x="548.40" y="487.00" width="23.40" height="13.60" fill="#f2bf3a"/>
<text transform="matrix(0.7600,0,0,1,557.58,498.00)" font-size="11.80" stroke="#241d14" stroke-width="0.22" stroke-linejoin="round" fill="#241d14">6</text>
<rect x="548.40" y="503.30" width="23.40" height="13.60" fill="#f2bf3a"/>
<text transform="matrix(0.7600,0,0,1,557.61,514.30)" font-size="11.80" stroke="#241d14" stroke-width="0.22" stroke-linejoin="round" fill="#241d14">9</text>
<rect x="548.40" y="519.80" width="23.40" height="13.60" fill="#f2bf3a"/>
<g transform="matrix(0.7600,0,0,1,555.65,530.80)" fill="#241d14"><text font-size="11.80" stroke="#241d14" stroke-width="0.22" stroke-linejoin="round">  </text><path transform="matrix(0.00576,0,0,-0.00576,0.000,0)" d="M515 0V1237L197 1010V1180L530 1409H696V0Z" stroke="#241d14" stroke-width="38.2" stroke-linejoin="round"/><path transform="matrix(0.00576,0,0,-0.00576,6.563,0)" d="M515 0V1237L197 1010V1180L530 1409H696V0Z" stroke="#241d14" stroke-width="38.2" stroke-linejoin="round"/></g>
<rect x="548.40" y="536.10" width="23.40" height="13.60" fill="#f2bf3a"/>
<g transform="matrix(0.7600,0,0,1,554.88,547.10)" fill="#241d14"><text font-size="11.80" stroke="#241d14" stroke-width="0.22" stroke-linejoin="round"> 3</text><path transform="matrix(0.00576,0,0,-0.00576,0.000,0)" d="M515 0V1237L197 1010V1180L530 1409H696V0Z" stroke="#241d14" stroke-width="38.2" stroke-linejoin="round"/></g>
<rect x="548.40" y="552.10" width="23.40" height="13.60" fill="#f2bf3a"/>
<g transform="matrix(0.7600,0,0,1,554.87,563.10)" fill="#241d14"><text font-size="11.80" stroke="#241d14" stroke-width="0.22" stroke-linejoin="round"> 5</text><path transform="matrix(0.00576,0,0,-0.00576,0.000,0)" d="M515 0V1237L197 1010V1180L530 1409H696V0Z" stroke="#241d14" stroke-width="38.2" stroke-linejoin="round"/></g>
<rect x="548.40" y="568.40" width="23.40" height="13.60" fill="#f2bf3a"/>
<text transform="matrix(0.7600,0,0,1,555.06,579.40)" font-size="11.80" stroke="#241d14" stroke-width="0.22" stroke-linejoin="round" fill="#241d14">20</text>
<rect x="270.10" y="487.00" width="65.20" height="95.10" fill="#47423c"/>
<rect x="13.50" y="487.00" width="86.50" height="13.60" fill="#47423c"/>
<rect x="102.50" y="487.00" width="62.00" height="13.60" fill="#47423c"/>
<rect x="167.20" y="487.00" width="100.70" height="13.60" fill="#47423c"/>
<text transform="matrix(0.7863,0,0,1,30.63,499.50)" font-size="12.40" stroke="#eeece8" stroke-width="0.12" stroke-linejoin="round" fill="#eeece8">3.5SDm2/9</text>
<text transform="matrix(0.8000,0,0,1,124.29,498.30)" font-size="11.90" stroke="#eeece8" stroke-width="0.12" stroke-linejoin="round" fill="#eeece8">0,37</text>
<g transform="matrix(1.0902,0,0,1,205.76,498.90)" fill="#eeece8"><text font-size="12.80" stroke="#eeece8" stroke-width="0.12" stroke-linejoin="round"> </text><path transform="matrix(0.00625,0,0,-0.00625,0.000,0)" d="M515 0V1237L197 1010V1180L530 1409H696V0Z" stroke="#eeece8" stroke-width="19.2" stroke-linejoin="round"/></g>
<g transform="matrix(0.8983,0,0,1,215.39,498.90)" fill="#eeece8"><text font-size="12.80" stroke="#eeece8" stroke-width="0.12" stroke-linejoin="round"> /2</text><path transform="matrix(0.00625,0,0,-0.00625,0.000,0)" d="M515 0V1237L197 1010V1180L530 1409H696V0Z" stroke="#eeece8" stroke-width="19.2" stroke-linejoin="round"/></g>
<rect x="235.2" y="489.90" width="0.9" height="1.9" fill="#eeece8"/><rect x="237.9" y="489.90" width="0.9" height="1.9" fill="#eeece8"/>
<rect x="13.50" y="503.30" width="86.50" height="13.60" fill="#47423c"/>
<rect x="102.50" y="503.30" width="62.00" height="13.60" fill="#47423c"/>
<rect x="167.20" y="503.30" width="100.70" height="13.60" fill="#47423c"/>
<g transform="matrix(0.7863,0,0,1,30.63,515.80)" fill="#eeece8"><text font-size="12.40" stroke="#eeece8" stroke-width="0.12" stroke-linejoin="round">3.5SDm2/ 3</text><path transform="matrix(0.00605,0,0,-0.00605,55.134,0)" d="M515 0V1237L197 1010V1180L530 1409H696V0Z" stroke="#eeece8" stroke-width="19.8" stroke-linejoin="round"/></g>
<text transform="matrix(0.8000,0,0,1,124.25,514.60)" font-size="11.90" stroke="#eeece8" stroke-width="0.12" stroke-linejoin="round" fill="#eeece8">0,55</text>
<g transform="matrix(1.0902,0,0,1,205.76,515.20)" fill="#eeece8"><text font-size="12.80" stroke="#eeece8" stroke-width="0.12" stroke-linejoin="round"> </text><path transform="matrix(0.00625,0,0,-0.00625,0.000,0)" d="M515 0V1237L197 1010V1180L530 1409H696V0Z" stroke="#eeece8" stroke-width="19.2" stroke-linejoin="round"/></g>
<g transform="matrix(0.8983,0,0,1,215.39,515.20)" fill="#eeece8"><text font-size="12.80" stroke="#eeece8" stroke-width="0.12" stroke-linejoin="round"> /2</text><path transform="matrix(0.00625,0,0,-0.00625,0.000,0)" d="M515 0V1237L197 1010V1180L530 1409H696V0Z" stroke="#eeece8" stroke-width="19.2" stroke-linejoin="round"/></g>
<rect x="235.2" y="506.20" width="0.9" height="1.9" fill="#eeece8"/><rect x="237.9" y="506.20" width="0.9" height="1.9" fill="#eeece8"/>
<rect x="13.50" y="519.80" width="86.50" height="13.60" fill="#47423c"/>
<rect x="102.50" y="519.80" width="62.00" height="13.60" fill="#47423c"/>
<rect x="167.20" y="519.80" width="100.70" height="13.60" fill="#47423c"/>
<g transform="matrix(0.7863,0,0,1,30.63,532.30)" fill="#eeece8"><text font-size="12.40" stroke="#eeece8" stroke-width="0.12" stroke-linejoin="round">3.5SDm2/ 6</text><path transform="matrix(0.00605,0,0,-0.00605,55.134,0)" d="M515 0V1237L197 1010V1180L530 1409H696V0Z" stroke="#eeece8" stroke-width="19.8" stroke-linejoin="round"/></g>
<text transform="matrix(0.8000,0,0,1,124.25,531.10)" font-size="11.90" stroke="#eeece8" stroke-width="0.12" stroke-linejoin="round" fill="#eeece8">0,75</text>
<g transform="matrix(1.0902,0,0,1,205.76,531.70)" fill="#eeece8"><text font-size="12.80" stroke="#eeece8" stroke-width="0.12" stroke-linejoin="round"> </text><path transform="matrix(0.00625,0,0,-0.00625,0.000,0)" d="M515 0V1237L197 1010V1180L530 1409H696V0Z" stroke="#eeece8" stroke-width="19.2" stroke-linejoin="round"/></g>
<g transform="matrix(0.8983,0,0,1,215.39,531.70)" fill="#eeece8"><text font-size="12.80" stroke="#eeece8" stroke-width="0.12" stroke-linejoin="round"> /2</text><path transform="matrix(0.00625,0,0,-0.00625,0.000,0)" d="M515 0V1237L197 1010V1180L530 1409H696V0Z" stroke="#eeece8" stroke-width="19.2" stroke-linejoin="round"/></g>
<rect x="235.2" y="522.70" width="0.9" height="1.9" fill="#eeece8"/><rect x="237.9" y="522.70" width="0.9" height="1.9" fill="#eeece8"/>
<rect x="13.50" y="536.10" width="86.50" height="13.60" fill="#47423c"/>
<rect x="102.50" y="536.10" width="62.00" height="13.60" fill="#47423c"/>
<rect x="167.20" y="536.10" width="100.70" height="13.60" fill="#47423c"/>
<g transform="matrix(0.7863,0,0,1,30.63,548.60)" fill="#eeece8"><text font-size="12.40" stroke="#eeece8" stroke-width="0.12" stroke-linejoin="round">3.5SDm2/ 8</text><path transform="matrix(0.00605,0,0,-0.00605,55.134,0)" d="M515 0V1237L197 1010V1180L530 1409H696V0Z" stroke="#eeece8" stroke-width="19.8" stroke-linejoin="round"/></g>
<text transform="matrix(0.8000,0,0,1,124.25,547.40)" font-size="11.90" stroke="#eeece8" stroke-width="0.12" stroke-linejoin="round" fill="#eeece8">0,95</text>
<g transform="matrix(1.0902,0,0,1,205.76,548.00)" fill="#eeece8"><text font-size="12.80" stroke="#eeece8" stroke-width="0.12" stroke-linejoin="round"> </text><path transform="matrix(0.00625,0,0,-0.00625,0.000,0)" d="M515 0V1237L197 1010V1180L530 1409H696V0Z" stroke="#eeece8" stroke-width="19.2" stroke-linejoin="round"/></g>
<g transform="matrix(0.8983,0,0,1,215.39,548.00)" fill="#eeece8"><text font-size="12.80" stroke="#eeece8" stroke-width="0.12" stroke-linejoin="round"> /2</text><path transform="matrix(0.00625,0,0,-0.00625,0.000,0)" d="M515 0V1237L197 1010V1180L530 1409H696V0Z" stroke="#eeece8" stroke-width="19.2" stroke-linejoin="round"/></g>
<rect x="235.2" y="539.00" width="0.9" height="1.9" fill="#eeece8"/><rect x="237.9" y="539.00" width="0.9" height="1.9" fill="#eeece8"/>
<rect x="13.50" y="552.10" width="86.50" height="13.60" fill="#47423c"/>
<rect x="102.50" y="552.10" width="62.00" height="13.60" fill="#47423c"/>
<rect x="167.20" y="552.10" width="100.70" height="13.60" fill="#47423c"/>
<text transform="matrix(0.7863,0,0,1,30.63,564.60)" font-size="12.40" stroke="#eeece8" stroke-width="0.12" stroke-linejoin="round" fill="#eeece8">3.5SDm2/22</text>
<g transform="matrix(0.8000,0,0,1,127.45,563.40)" fill="#eeece8"><text font-size="11.90" stroke="#eeece8" stroke-width="0.12" stroke-linejoin="round"> , </text><path transform="matrix(0.00581,0,0,-0.00581,0.000,0)" d="M515 0V1237L197 1010V1180L530 1409H696V0Z" stroke="#eeece8" stroke-width="20.7" stroke-linejoin="round"/><path transform="matrix(0.00581,0,0,-0.00581,9.924,0)" d="M515 0V1237L197 1010V1180L530 1409H696V0Z" stroke="#eeece8" stroke-width="20.7" stroke-linejoin="round"/></g>
<g transform="matrix(1.0902,0,0,1,205.76,564.00)" fill="#eeece8"><text font-size="12.80" stroke="#eeece8" stroke-width="0.12" stroke-linejoin="round"> </text><path transform="matrix(0.00625,0,0,-0.00625,0.000,0)" d="M515 0V1237L197 1010V1180L530 1409H696V0Z" stroke="#eeece8" stroke-width="19.2" stroke-linejoin="round"/></g>
<g transform="matrix(0.8983,0,0,1,215.39,564.00)" fill="#eeece8"><text font-size="12.80" stroke="#eeece8" stroke-width="0.12" stroke-linejoin="round"> /2</text><path transform="matrix(0.00625,0,0,-0.00625,0.000,0)" d="M515 0V1237L197 1010V1180L530 1409H696V0Z" stroke="#eeece8" stroke-width="19.2" stroke-linejoin="round"/></g>
<rect x="235.2" y="555.00" width="0.9" height="1.9" fill="#eeece8"/><rect x="237.9" y="555.00" width="0.9" height="1.9" fill="#eeece8"/>
<rect x="13.50" y="568.40" width="86.50" height="13.60" fill="#47423c"/>
<rect x="102.50" y="568.40" width="62.00" height="13.60" fill="#47423c"/>
<rect x="167.20" y="568.40" width="100.70" height="13.60" fill="#47423c"/>
<text transform="matrix(0.7863,0,0,1,30.63,580.90)" font-size="12.40" stroke="#eeece8" stroke-width="0.12" stroke-linejoin="round" fill="#eeece8">3.5SDm2/28</text>
<g transform="matrix(0.8000,0,0,1,126.62,579.70)" fill="#eeece8"><text font-size="11.90" stroke="#eeece8" stroke-width="0.12" stroke-linejoin="round"> ,5</text><path transform="matrix(0.00581,0,0,-0.00581,0.000,0)" d="M515 0V1237L197 1010V1180L530 1409H696V0Z" stroke="#eeece8" stroke-width="20.7" stroke-linejoin="round"/></g>
<g transform="matrix(1.0902,0,0,1,205.76,580.30)" fill="#eeece8"><text font-size="12.80" stroke="#eeece8" stroke-width="0.12" stroke-linejoin="round"> </text><path transform="matrix(0.00625,0,0,-0.00625,0.000,0)" d="M515 0V1237L197 1010V1180L530 1409H696V0Z" stroke="#eeece8" stroke-width="19.2" stroke-linejoin="round"/></g>
<g transform="matrix(0.8983,0,0,1,215.39,580.30)" fill="#eeece8"><text font-size="12.80" stroke="#eeece8" stroke-width="0.12" stroke-linejoin="round"> /2</text><path transform="matrix(0.00625,0,0,-0.00625,0.000,0)" d="M515 0V1237L197 1010V1180L530 1409H696V0Z" stroke="#eeece8" stroke-width="19.2" stroke-linejoin="round"/></g>
<rect x="235.2" y="571.30" width="0.9" height="1.9" fill="#eeece8"/><rect x="237.9" y="571.30" width="0.9" height="1.9" fill="#eeece8"/>
<text transform="matrix(0.8531,0,0,1,48.47,466.30)" font-size="11.80" stroke="#eeece8" stroke-width="0.12" stroke-linejoin="round" fill="#eeece8">Тип</text>
<text transform="matrix(0.8852,0,0,1,106.12,467.50)" font-size="12.30" stroke="#eeece8" stroke-width="0.12" stroke-linejoin="round" fill="#eeece8">Потужність</text>
<text transform="matrix(0.8970,0,0,1,115.39,481.00)" font-size="12.30" stroke="#eeece8" stroke-width="0.12" stroke-linejoin="round" fill="#eeece8">P , кВт</text>
<text transform="matrix(0.8631,0,0,1,200.72,466.00)" font-size="12.30" stroke="#eeece8" stroke-width="0.12" stroke-linejoin="round" fill="#eeece8">Діаметр</text>
<text transform="matrix(0.8668,0,0,1,189.26,478.30)" font-size="12.30" stroke="#eeece8" stroke-width="0.12" stroke-linejoin="round" fill="#eeece8">підключення</text>
<text transform="matrix(1.1916,0,0,1,281.89,465.00)" font-size="11.00" stroke="#eeece8" stroke-width="0.12" stroke-linejoin="round" fill="#eeece8">м</text>
<text transform="matrix(1.1357,0,0,1,290.22,461.70)" font-size="6.50" stroke="#eeece8" stroke-width="0.12" stroke-linejoin="round" fill="#eeece8">3</text>
<text transform="matrix(1.2298,0,0,1,296.80,466.30)" font-size="12.00" stroke="#eeece8" stroke-width="0.12" stroke-linejoin="round" fill="#eeece8">/</text>
<text transform="matrix(1.0899,0,0,1,302.97,465.00)" font-size="11.00" stroke="#eeece8" stroke-width="0.12" stroke-linejoin="round" fill="#eeece8">год</text>
<text transform="matrix(0.9904,0,0,1,290.34,481.50)" font-size="11.50" stroke="#eeece8" stroke-width="0.12" stroke-linejoin="round" fill="#eeece8">л/хв</text>
<text transform="matrix(0.8263,0,0,1,291.12,535.70)" font-size="13.00" stroke="#eeece8" stroke-width="0.12" stroke-linejoin="round" fill="#eeece8">H</text>
<text transform="matrix(1.3894,0,0,1,301.13,535.70)" font-size="11.00" stroke="#eeece8" stroke-width="0.12" stroke-linejoin="round" fill="#eeece8">,</text>
<text transform="matrix(1.0448,0,0,1,307.87,535.70)" font-size="11.50" stroke="#eeece8" stroke-width="0.12" stroke-linejoin="round" fill="#eeece8">м</text>
</svg>
</body></html>
